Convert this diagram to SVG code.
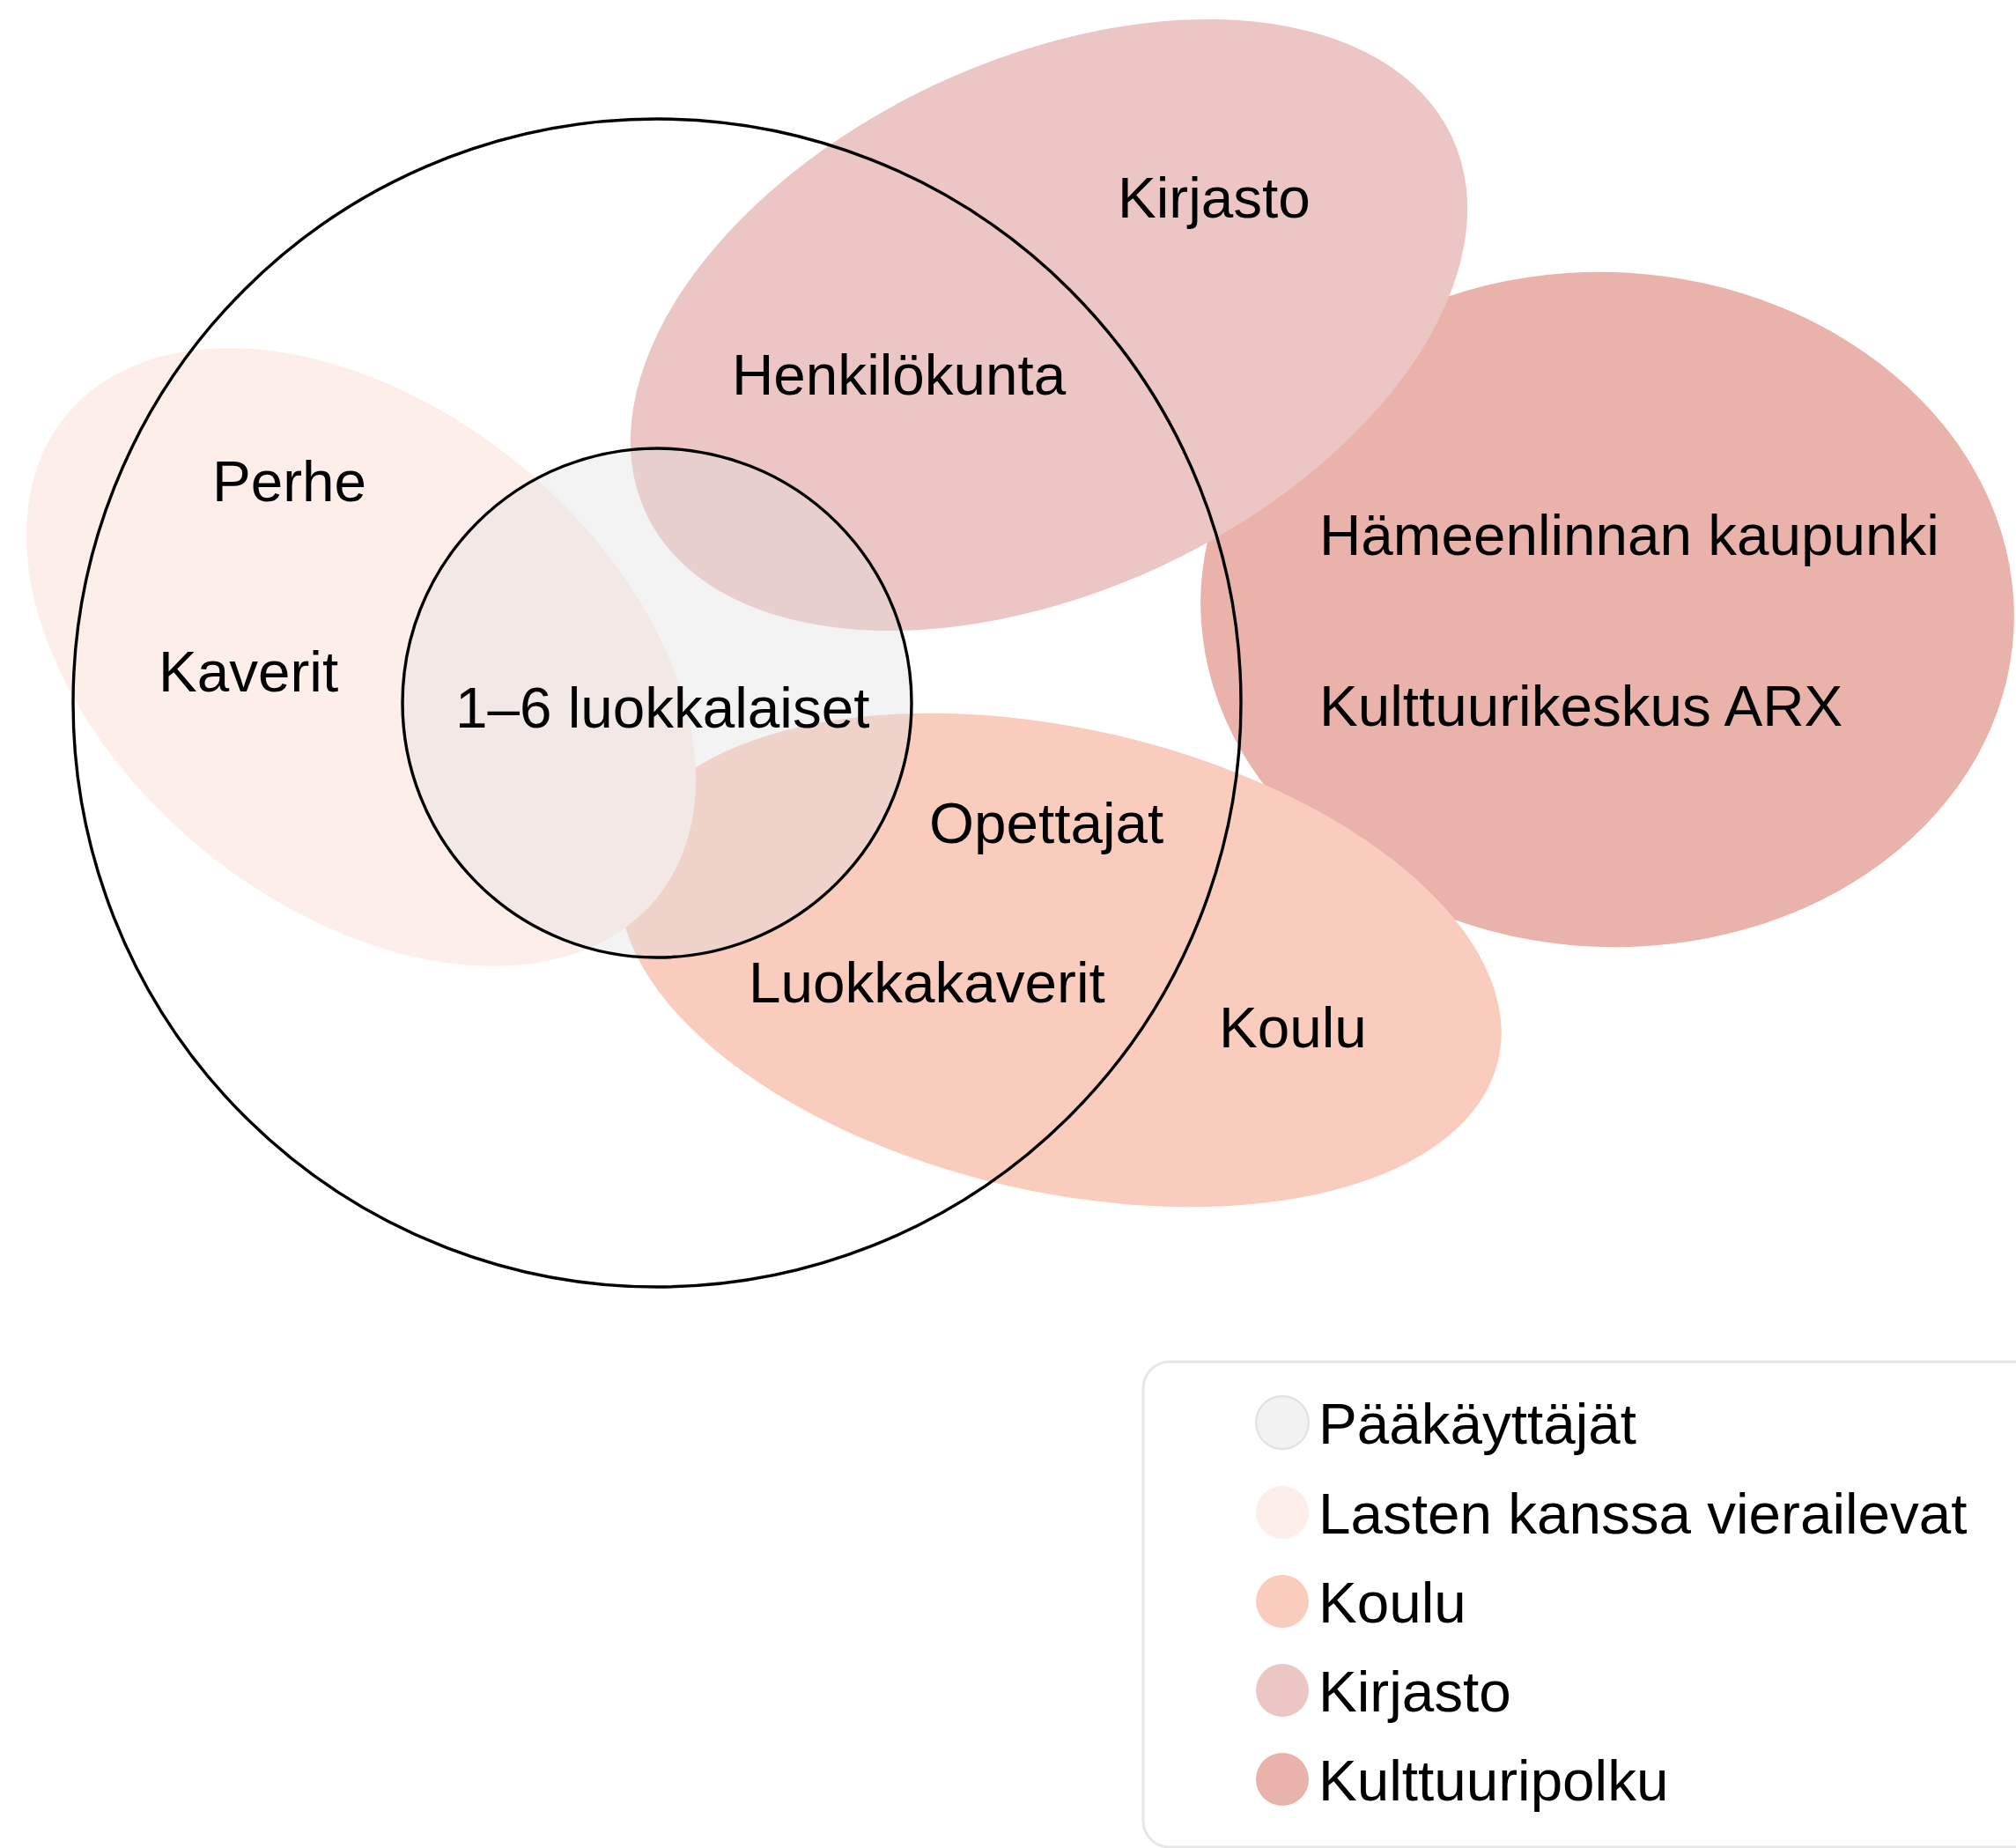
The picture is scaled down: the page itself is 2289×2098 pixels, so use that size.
<svg xmlns="http://www.w3.org/2000/svg" width="2289" height="2098" viewBox="0 0 2289 2098">
<style>
text{font-family:"Liberation Sans",Arial,Helvetica,sans-serif;font-size:65.6px;fill:#000}
.ring{fill:none;stroke:#000;stroke-width:3.4}
</style>
<rect x="0" y="0" width="2289" height="2098" fill="#fff"/>
<g id="kulttuuripolku">
<ellipse cx="1825" cy="692" rx="462" ry="383" transform="rotate(3 1825 692)" fill="#e9b2ab"/>
</g>
<g id="koulu">
<ellipse cx="1204" cy="1090" rx="510" ry="263" transform="rotate(12.8 1204 1090)" fill="#f9ccbd"/>
</g>
<g id="kirjasto">
<ellipse cx="1191" cy="369" rx="505" ry="302" transform="rotate(-25 1191 369)" fill="#ecc6c4"/>
</g>
<g id="lasten">
<ellipse cx="410" cy="746" rx="433" ry="283" transform="rotate(39.25 410 746)" fill="#fdeeea"/>
</g>
<g id="paakayttajat">
<circle cx="746" cy="798" r="289" fill="#e0e0e0" fill-opacity="0.38"/>
</g>
<g id="rings">
<circle class="ring" cx="746" cy="798" r="663"/>
<circle class="ring" cx="746" cy="798" r="289" stroke-width="3.8"/>
</g>
<g id="connectors"></g>
<g id="labels">
<text x="1269" y="247">Kirjasto</text>
<text x="831" y="448">Henkilökunta</text>
<text x="241" y="569">Perhe</text>
<text x="180" y="785">Kaverit</text>
<text x="517" y="826">1–6 luokkalaiset</text>
<text x="1055" y="957">Opettajat</text>
<text x="850" y="1138">Luokkakaverit</text>
<text x="1384" y="1189">Koulu</text>
<text x="1498" y="630">Hämeenlinnan kaupunki</text>
<text x="1498" y="824">Kulttuurikeskus ARX</text>
</g>
<g id="legend">
<rect x="1298" y="1546" width="1040" height="551" rx="30" ry="30" fill="#fff" stroke="#e6e6e6" stroke-width="3"/>
<circle cx="1456" cy="1615" r="30" fill="#f2f2f2" stroke="#e0e0e0" stroke-width="2"/>
<circle cx="1456" cy="1717" r="30" fill="#fdeeea"/>
<circle cx="1456" cy="1818" r="30" fill="#f9ccbd"/>
<circle cx="1456" cy="1919" r="30" fill="#ecc6c4"/>
<circle cx="1456" cy="2020" r="30" fill="#e9b2ab"/>
<text x="1497" y="1639">Pääkäyttäjät</text>
<text x="1497" y="1741">Lasten kanssa vierailevat</text>
<text x="1497" y="1842">Koulu</text>
<text x="1497" y="1943">Kirjasto</text>
<text x="1497" y="2044">Kulttuuripolku</text>
</g>
</svg>
